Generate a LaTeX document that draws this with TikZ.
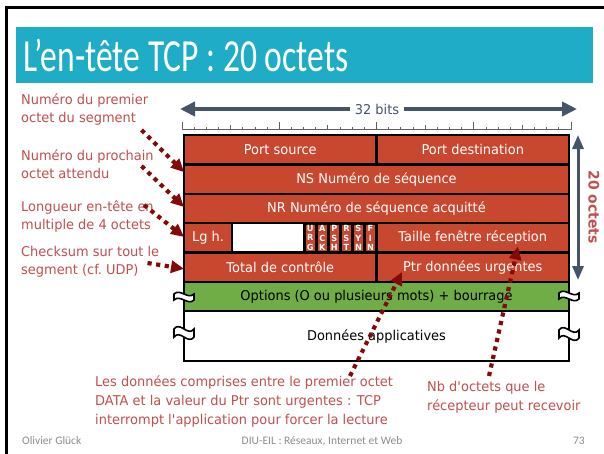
\documentclass[tikz,border=0pt]{standalone}
\usepackage{fontspec}
\setmainfont{DejaVu Sans}[FakeStretch=0.96]
\newfontfamily\slidefont{Carlito}
\usetikzlibrary{arrows.meta}

\definecolor{tcpred}{HTML}{C8472F}
\definecolor{tcpgreen}{HTML}{70AD47}
\definecolor{notered}{HTML}{C0504D}
\definecolor{ptrred}{HTML}{840A0A}
\definecolor{slate}{HTML}{44546A}
\definecolor{banner}{HTML}{1FACC7}
\definecolor{footgray}{HTML}{8C8C8C}
\definecolor{rulergray}{HTML}{606060}

\tikzset{
  pics/brk/.style={code={
    \draw[breakmark] (-10,-3) .. controls (-4,-9) and (4,3) .. (10,-3)
      -- (10,3) .. controls (4,9) and (-4,-3) .. (-10,3) -- cycle;
  }},
}

\begin{document}
\begin{tikzpicture}[x=1pt,y=-1pt,
  cell/.style={draw=black, line width=2.5pt, fill=tcpred, text=white,
    inner sep=0pt, outer sep=0pt, font=\fontsize{13.5}{15}\selectfont,
    minimum height=29.4pt},
  flagcell/.style={cell, line width=3pt, minimum width=12.03pt,
    font=\bfseries\fontsize{8.5}{9.3}\selectfont, align=center},
  note/.style={text=notered, inner sep=0pt, anchor=west, align=left},
  dotarrow/.style={draw=ptrred, line width=4.2pt, dash pattern=on 4.2pt off 4.5pt,
    -{Triangle[length=13pt,width=12pt]}},
  widtharrow/.style={draw=slate, line width=4pt,
    {Triangle[length=15pt,width=14pt]}-{Triangle[length=15pt,width=14pt]}},
  heightarrow/.style={draw=slate, line width=3pt,
    {Triangle[length=14pt,width=11pt]}-{Triangle[length=14pt,width=11pt]}},
  breakmark/.style={draw=black, line width=1.6pt, fill=white},
]
\useasboundingbox (0,0) rectangle (604,453);
\clip (0,0) rectangle (604,453);
\fill[white] (0,0) rectangle (604,453);

% slide frame and title banner
\draw[line width=3pt] (6,7) rectangle (660,520);
\fill[banner] (16,27) rectangle (593,83);
\node[anchor=base west, inner sep=0pt, text=white,
  font=\slidefont\fontsize{46}{46}\selectfont] (title) at (23,71)
  {\scalebox{0.73}[1]{L’en-tête TCP : 20 octets}};

% 32-bit ruler
\draw[rulergray, line width=0.8pt] (182,129.5) -- (571,129.5);
\foreach \i in {0,...,32}{
  \pgfmathsetmacro\tickx{182+\i*12.156}
  \pgfmathsetmacro\tickh{mod(\i,8)==0 ? 7.5 : (mod(\i,4)==0 ? 4.5 : 2.5)}
  \draw[rulergray, line width=0.8pt] (\tickx,129.5) -- (\tickx,129.5-\tickh);
}
\coordinate (wl) at (180,109);
\coordinate (wr) at (577,109);
\draw[widtharrow] (wl) -- (wr);
\node[fill=white, text=slate, inner xsep=5pt, inner ysep=1pt,
  font=\fontsize{13.5}{15}\selectfont] (bits) at (377,109.5) {32 bits};

% header words
\node[cell, minimum width=192.5pt] (psrc) at (280.25,149.7) {Port source};
\node[cell, minimum width=192.5pt] (pdst) at (472.75,149.7) {Port destination};
\node[cell, minimum width=385pt] (ns) at (376.5,179.1) {NS Numéro de séquence};
\node[cell, minimum width=385pt] (nr) at (376.5,208.5) {NR Numéro de séquence acquitté};
\node[cell, minimum width=48.1pt] (lg) at (208.05,237.9) {Lg h.};
\node[cell, fill=white, minimum width=72.2pt] (resv) at (268.2,237.9) {};
\node[flagcell] (urg) at (310.3,237.9) {U\\R\\G};
\node[flagcell] (ack) at (322.33,237.9) {A\\C\\K};
\node[flagcell] (psh) at (334.36,237.9) {P\\S\\H};
\node[flagcell] (rst) at (346.39,237.9) {R\\S\\T};
\node[flagcell] (syn) at (358.42,237.9) {S\\Y\\N};
\node[flagcell] (fin) at (370.45,237.9) {F\\I\\N};
\node[cell, minimum width=192.5pt] (win) at (472.75,237.9) {Taille fenêtre réception};
\node[cell, minimum width=192.5pt] (tot) at (280.25,267.3) {Total de contrôle};
\node[cell, minimum width=192.5pt] (ptr) at (472.75,267.3) {Ptr données urgentes};
\node[cell, fill=tcpgreen, text=black, minimum width=385pt, minimum height=29pt]
  (opt) at (376.5,296.5) {Options (O ou plusieurs mots) + bourrage};
\node[cell, fill=white, text=black, minimum width=385pt, minimum height=50pt]
  (data) at (376.5,336) {Données applicatives};

% variable-length breaks
\pic at (184,297) {brk};
\pic at (569,296) {brk};
\pic[yscale=1.35] at (184,333) {brk};
\pic[yscale=1.35] at (569,334) {brk};

% header height
\coordinate (ht) at (578,135);
\coordinate (hb) at (578,280);
\draw[heightarrow] (ht) -- (hb);
\node[rotate=-90, text=notered, inner sep=0pt,
  font=\bfseries\fontsize{14.5}{16}\selectfont] (octs) at (594,207) {20 octets};

% side notes
\begin{scope}[font=\fontsize{13.5}{18}\selectfont]
\node[note] (n1) at (21,110) {Numéro du premier\\octet du segment};
\node[note] (n2) at (21,164.5) {Numéro du prochain\\octet attendu};
\node[note] (n3) at (21,216) {Longueur en-tête en\\multiple de 4 octets};
\node[note] (n4) at (21,262) {Checksum sur tout le\\segment (cf.\ UDP)};
\end{scope}
\begin{scope}[font=\fontsize{13.5}{19}\selectfont]
\node[note] (nurg) at (95,401) {Les données comprises entre le premier octet\\DATA et la valeur du Ptr sont urgentes : TCP\\interrompt l\textquotesingle application pour forcer la lecture};
\node[note] (nwin) at (427,397) {Nb d\textquotesingle octets que le\\récepteur peut recevoir};
\end{scope}

% footer
\begin{scope}[text=footgray, inner sep=0pt, font=\slidefont\fontsize{11.5}{12}\selectfont]
\node[anchor=base west] (author) at (22,444) {Olivier Glück};
\node[anchor=base] (course) at (322,444) {DIU-EIL : Réseaux, Internet et Web};
\node[anchor=base east] (page) at (585,444) {73};
\end{scope}

% pointers
\coordinate (s1) at (141.5,130);
\coordinate (s2) at (141.5,166);
\coordinate (s3) at (144,205);
\coordinate (s4) at (147.5,263);
\coordinate (sa) at (350,376);
\coordinate (sb) at (489,376);
\draw[dotarrow] (s1) -- ([yshift=7pt]ns.west);
\draw[dotarrow] (s2) -- ([yshift=1.5pt]nr.west);
\draw[dotarrow] (s3) -- ([yshift=1pt]lg.west);
\draw[dotarrow] (s4) -- ([yshift=-1.5pt]tot.west);
\draw[dotarrow] (sa) -- ([xshift=25.5pt,yshift=10pt]ptr.south west);
\draw[dotarrow] (sb) -- ([xshift=141.5pt,yshift=6pt]win.south west);
\end{tikzpicture}
\end{document}
